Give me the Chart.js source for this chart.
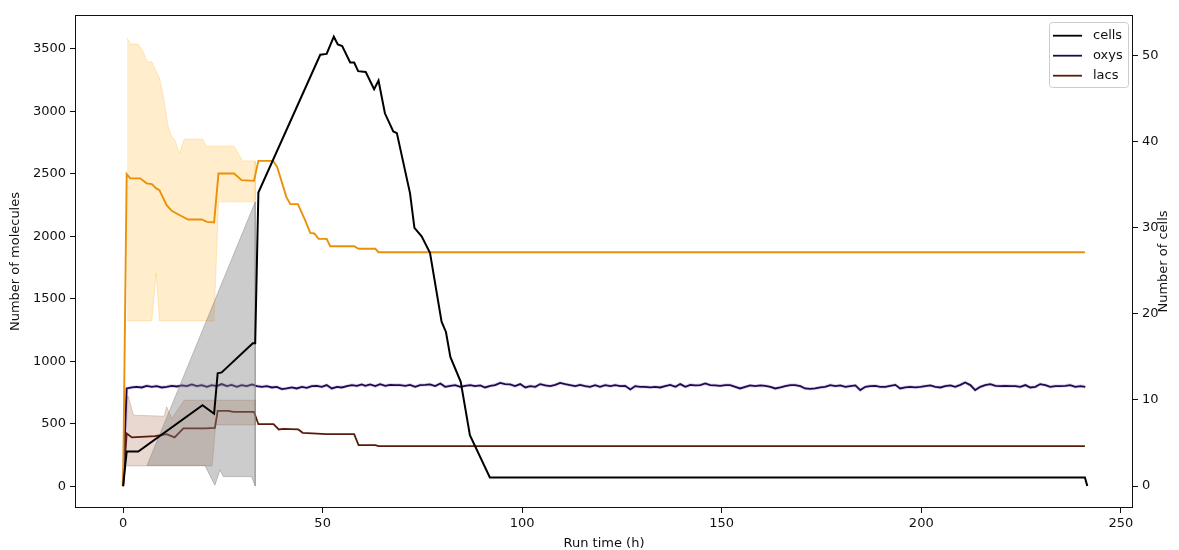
<!DOCTYPE html>
<html><head><meta charset="utf-8">
<script src="https://cdn.jsdelivr.net/npm/chart.js@4.4.0/dist/chart.umd.min.js"></script>
<style>html,body{margin:0;padding:0;background:#fff;}#wrap{width:1179px;height:550px;}</style>
</head><body><div id="wrap"><canvas id="c" width="1179" height="550"></canvas></div>
<script>
// ---- tick labels ----
const xTicks = [0, 50, 100, 150, 200, 250];
const yTicks = [0, 500, 1000, 1500, 2000, 2500, 3000, 3500];
const y2Ticks = [0, 10, 20, 30, 40, 50];

// ---- cells (right axis) ----
const cellsT = [0, 0.9, 3.8, 19.9, 22.8, 23.7, 24.7, 32.5, 33.1, 33.9, 49.4, 51, 52.8, 53.8, 54.9, 56.9, 57.9, 58.9, 60.8, 62.9, 64, 65.6, 67.7, 68.6, 71.9, 73, 74.8, 76.9, 79.8, 80.9, 82, 84.6, 86.9, 91.9, 241, 241.6];
const cellsV = [0, 4, 4, 9.4, 8.4, 13.1, 13.2, 16.6, 16.6, 34.1, 50.1, 50.2, 52.2, 51.3, 51.1, 49.2, 49.2, 48.2, 48.1, 46.1, 47.1, 43.3, 41.2, 41, 34, 30, 29, 27.1, 19.1, 17.9, 15, 12.1, 5.9, 1, 1, 0];
// cells spread band
const cellsUpT = [6.0, 33.1];
const cellsUpV = [2.4, 33.0];
const cellsLoT = [6.0, 20.5, 23.0, 24.3, 25.1, 32.2, 33.1];
const cellsLoV = [2.4, 2.4, 0.1, 1.9, 1.1, 1.1, 0];

// ---- orange series (left axis) ----
const glcT = [0, 0.9, 1.8, 4.3, 5.9, 7.2, 8.3, 9.1, 10.9, 12.2, 13.4, 16.3, 19.7, 21, 22.8, 23.9, 27.8, 29.7, 32.8, 33.9, 37.6, 38.6, 40.9, 41.9, 43.8, 45.6, 46.9, 47.9, 49, 51, 51.9, 57.9, 59, 63.2, 64, 241];
const glcV = [0, 2498, 2464, 2464, 2424, 2418, 2384, 2370, 2250, 2204, 2183, 2135, 2135, 2116, 2111, 2503, 2503, 2450, 2444, 2604, 2604, 2556, 2316, 2258, 2258, 2130, 2028, 2023, 1980, 1980, 1921, 1921, 1900, 1900, 1873, 1873];
const glcBandT = [1.0, 1.9, 3.8, 4.9, 6.1, 7.2, 8.3, 9.1, 10.1, 11.3, 12.2, 13.0, 14.1, 15.3, 19.9, 20.9, 22.8, 23.9, 27.8, 30.0, 33.1];
const glcUpV = [3587, 3539, 3539, 3485, 3397, 3397, 3320, 3270, 3117, 2877, 2797, 2770, 2664, 2778, 2778, 2722, 2722, 2722, 2722, 2604, 2604];
const glcLoV = [1323, 1323, 1323, 1323, 1323, 1323, 1703, 1323, 1323, 1323, 1323, 1323, 1323, 1323, 1323, 1323, 1323, 2276, 2276, 2276, 2276];

// ---- lacs (left axis) ----
const lacsT = [0, 0.9, 2.2, 8, 10.9, 12.9, 15.1, 20.6, 23, 23.7, 26.4, 27.6, 32.8, 33.9, 37.7, 39, 40.2, 43.9, 45, 51, 57.9, 59, 63.2, 64, 241];
const lacsV = [0, 422, 390, 400, 416, 390, 462, 462, 467, 603, 603, 595, 595, 496, 496, 454, 459, 454, 427, 416, 416, 328, 328, 320, 320];
const lacsBandT = [0.9, 1.3, 2.6, 10.3, 10.9, 12.2, 15.3, 22.3, 23.2, 33.1];
const lacsUpV = [704, 720, 568, 560, 635, 542, 688, 688, 688, 688];
const lacsLoV = [162, 162, 162, 162, 162, 162, 162, 162, 490, 490];

// ---- oxys (left axis) ----
const oxysT = [0,
 0.9, 2.2, 3.4, 4.7, 5.9, 7.2, 8.4, 9.7, 10.9, 12.2, 13.5, 14.7, 16.0, 17.2, 18.5, 19.7, 21.0, 22.2, 23.5, 24.7, 26.0, 27.2, 28.5, 29.7, 31.0, 32.3, 33.5, 34.8, 36.0, 37.3, 38.5, 39.8, 41.0, 42.3, 43.5, 44.8, 46.0, 47.3, 48.5, 49.8, 51.0, 52.3, 53.6, 54.8, 56.1, 57.3, 58.6, 59.8,
 60.7, 61.9, 63.2, 64.4, 65.7, 66.9, 68.2, 69.4, 70.7, 71.9, 73.2, 74.4, 75.7, 76.9, 78.2, 79.5, 80.7, 82.0, 83.2, 84.5, 85.7, 87.0, 88.2, 89.5, 90.7, 92.0, 93.2, 94.5, 95.7, 97.0, 98.2, 99.5, 100.8, 102.0, 103.3, 104.5, 105.8, 107.0, 108.3, 109.5, 110.8, 112.0, 113.3, 114.5, 115.8, 117.0, 118.3, 119.5, 120.8, 122.1,
 123.3, 124.6, 125.8, 127.1, 128.3, 129.6, 130.8, 132.1, 133.3, 134.6, 135.8, 137.1, 138.4, 139.6, 140.9, 142.1, 143.4, 144.6, 145.9, 147.1, 148.4, 149.6, 150.9, 152.1, 153.4, 154.6, 155.9, 157.1, 158.4, 159.7, 160.9, 162.2, 163.4, 164.7, 165.9, 167.2, 168.4, 169.7, 170.9, 172.2, 173.4, 174.7, 175.9, 177.2, 178.5, 179.7, 181.0, 182.2, 183.5,
 184.7, 186.0, 187.2, 188.5, 189.7, 191.0, 192.2, 193.5, 194.7, 196.0, 197.2, 198.5, 199.8, 201.0, 202.3, 203.5, 204.8, 206.0, 207.3, 208.5, 209.8, 211.0, 212.3, 213.5, 214.8, 216.0, 217.3, 218.6, 219.8, 221.1, 222.3, 223.6, 224.8, 226.1, 227.3, 228.6, 229.8, 231.1, 232.3, 233.6, 234.8, 236.1, 237.3, 238.6, 239.9, 241.1];
const oxysV = [0,
 782, 790, 795, 790, 803, 795, 801, 790, 795, 803, 798, 806, 801, 814, 801, 809, 795, 809, 801, 817, 801, 811, 795, 809, 801, 814, 801, 795, 801, 790, 795, 777, 782, 790, 782, 795, 787, 801, 803, 795, 809, 782, 795, 790, 801, 809, 803, 814,
 803, 814, 801, 817, 803, 811, 809, 809, 803, 811, 795, 809, 811, 814, 801, 822, 795, 803, 809, 795, 803, 809, 801, 806, 790, 803, 809, 827, 817, 814, 801, 817, 790, 801, 795, 817, 806, 801, 811, 827, 817, 809, 801, 811, 801, 795, 809, 795, 809, 801,
 809, 801, 803, 774, 801, 795, 795, 790, 795, 790, 801, 811, 795, 817, 795, 811, 806, 809, 822, 809, 806, 803, 809, 809, 795, 782, 795, 806, 801, 806, 803, 795, 782, 790, 801, 809, 809, 801, 782, 779, 782, 790, 795, 809, 801, 806, 795, 801, 806,
 769, 795, 801, 803, 795, 795, 803, 811, 782, 790, 795, 790, 795, 801, 806, 795, 790, 801, 806, 795, 811, 830, 809, 769, 795, 809, 817, 803, 801, 803, 801, 801, 795, 809, 790, 795, 817, 809, 795, 801, 801, 803, 809, 795, 801, 795];

const seriesLabels = ['cells', 'oxys', 'lacs'];
const rightTitle = 'Number of cells';

// ---- helpers ----
const pts = (xs, ys) => xs.map((x, i) => ({x: x, y: ys[i]}));
const poly = (ux, uy, lx, ly) => pts(ux, uy).concat(pts(lx, ly).reverse());

const C_CELLS = '#000000', C_OXYS = '#1e0b4e', C_LACS = '#5a1c0a', C_GLC = '#ea9108';

const base = {pointRadius: 0, pointHoverRadius: 0, tension: 0, fill: false};

const datasets = [
  Object.assign({}, base, {label: seriesLabels[0], data: pts(cellsT, cellsV), yAxisID: 'y2', borderColor: C_CELLS, borderWidth: 2, order: 0, legend: true}),
  Object.assign({}, base, {label: 'cells band', data: poly(cellsUpT, cellsUpV, cellsLoT, cellsLoV), yAxisID: 'y2', borderColor: 'rgba(128,128,128,0.45)', borderWidth: 1, backgroundColor: 'rgba(128,128,128,0.4)', fill: 'shape', order: 1}),
  Object.assign({}, base, {label: 'glc', data: pts(glcT, glcV), yAxisID: 'y', borderColor: C_GLC, borderWidth: 1.9, order: 2}),
  Object.assign({}, base, {label: seriesLabels[1], data: pts(oxysT, oxysV), yAxisID: 'y', borderColor: C_OXYS, borderWidth: 1.8, order: 3, legend: true}),
  Object.assign({}, base, {label: 'oxys band', data: pts(oxysT, oxysV), yAxisID: 'y', borderColor: 'rgba(120,70,190,0.22)', borderWidth: 3.5, order: 4}),
  Object.assign({}, base, {label: seriesLabels[2], data: pts(lacsT, lacsV), yAxisID: 'y', borderColor: C_LACS, borderWidth: 1.8, order: 5, legend: true}),
  Object.assign({}, base, {label: 'glc band', data: poly(glcBandT, glcUpV, glcBandT, glcLoV), yAxisID: 'y', borderColor: 'rgba(255,165,0,0.22)', borderWidth: 1, backgroundColor: 'rgba(255,165,0,0.2)', fill: 'shape', order: 6}),
  Object.assign({}, base, {label: 'lacs band', data: poly(lacsBandT, lacsUpV, lacsBandT, lacsLoV), yAxisID: 'y', borderColor: 'rgba(140,60,20,0.22)', borderWidth: 1, backgroundColor: 'rgba(140,60,20,0.2)', fill: 'shape', order: 7})
];

const frameAndLegend = {
  id: 'frameAndLegend',
  afterDatasetsDraw(chart) {
    const ctx = chart.ctx, a = chart.chartArea;
    ctx.save();
    ctx.strokeStyle = '#111'; ctx.lineWidth = 1;
    ctx.strokeRect(Math.round(a.left) + 0.5, Math.round(a.top) + 0.5, Math.round(a.right - a.left) - 1, Math.round(a.bottom - a.top) - 1);
    // legend
    const items = chart.data.datasets.filter(d => d.legend);
    const bx = a.right - 84, by = a.top + 7, bw = 79, bh = 65;
    ctx.beginPath();
    ctx.roundRect(bx + 0.5, by + 0.5, bw, bh, 3);
    ctx.fillStyle = 'rgba(255,255,255,0.8)'; ctx.fill();
    ctx.strokeStyle = '#cccccc'; ctx.lineWidth = 1; ctx.stroke();
    ctx.font = '13px "DejaVu Sans"'; ctx.textBaseline = 'middle'; ctx.textAlign = 'left';
    items.forEach((d, i) => {
      const y = by + 13.7 + i * 20;
      ctx.beginPath(); ctx.moveTo(bx + 4, y); ctx.lineTo(bx + 33, y);
      ctx.strokeStyle = d.borderColor; ctx.lineWidth = 1.8; ctx.stroke();
      ctx.fillStyle = '#111'; ctx.fillText(d.label, bx + 44, y);
    });
    // right axis title, reading bottom-to-top
    const s = chart.scales.y2;
    ctx.translate(s.right - 15, (a.top + a.bottom) / 2);
    ctx.rotate(-Math.PI / 2);
    ctx.textAlign = 'center'; ctx.textBaseline = 'middle'; ctx.fillStyle = '#111';
    ctx.fillText(rightTitle, 0, 0);
    ctx.restore();
  }
};

const tickFont = {family: 'DejaVu Sans', size: 13};
const gridOpts = {display: true, drawOnChartArea: false, drawTicks: true, tickLength: 5, color: '#111', lineWidth: 1};

new Chart(document.getElementById('c'), {
  type: 'line',
  data: {datasets: datasets},
  options: {
    responsive: false, animation: false, devicePixelRatio: 1,
    layout: {padding: {top: 15, left: 0, right: 0, bottom: 0}},
    plugins: {legend: {display: false}, tooltip: {enabled: false}},
    scales: {
      x: {
        type: 'linear', min: -12.05, max: 253.05,
        afterBuildTicks: s => { s.ticks = xTicks.map(v => ({value: v})); },
        afterFit: s => { s.height = 42; },
        ticks: {font: tickFont, color: '#111', padding: 3, maxRotation: 0, callback: v => String(v)},
        grid: gridOpts, border: {display: false},
        title: {display: true, text: 'Run time (h)', font: {family: 'DejaVu Sans', size: 13, lineHeight: 1.0}, color: '#111', padding: {top: 0, bottom: 0}}
      },
      y: {
        type: 'linear', position: 'left', min: -175, max: 3772,
        afterBuildTicks: s => { s.ticks = yTicks.map(v => ({value: v})); },
        afterFit: s => { s.width = 75; },
        ticks: {font: tickFont, color: '#111', padding: 4, callback: v => String(v)},
        grid: gridOpts, border: {display: false},
        title: {display: true, text: 'Number of molecules', font: {family: 'DejaVu Sans', size: 13}, color: '#111', padding: {top: 8, bottom: 0}}
      },
      y2: {
        type: 'linear', position: 'right', min: -2.55, max: 54.72,
        afterBuildTicks: s => { s.ticks = y2Ticks.map(v => ({value: v})); },
        afterFit: s => { s.width = 46; },
        ticks: {font: tickFont, color: '#111', padding: 4, callback: v => String(v)},
        grid: gridOpts, border: {display: false},
        title: {display: false}
      }
    }
  },
  plugins: [frameAndLegend]
});
</script>
</body></html>
